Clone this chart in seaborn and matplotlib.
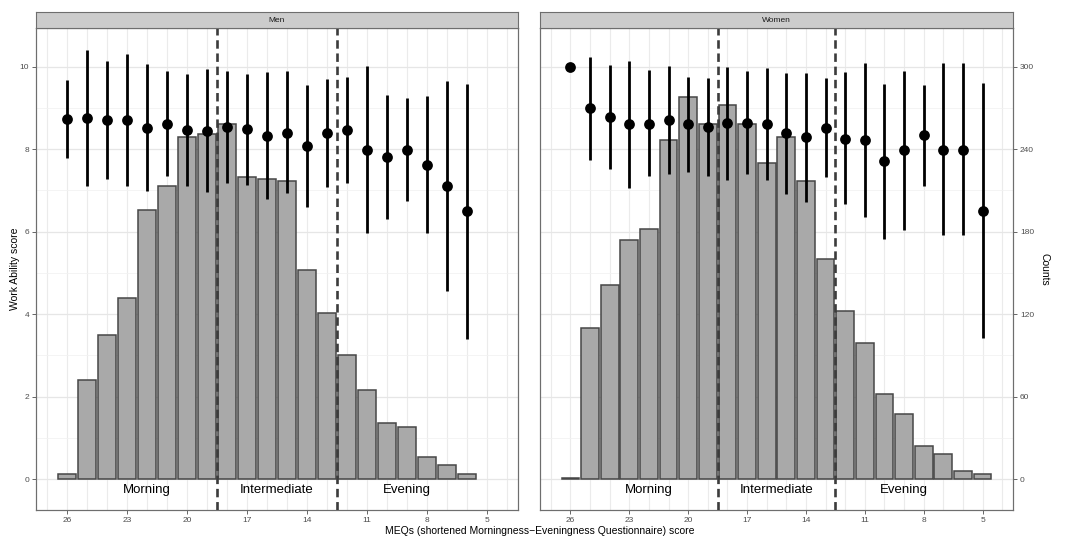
import matplotlib
matplotlib.use("Agg")
import matplotlib.pyplot as plt
import seaborn as sns
import pandas as pd

# data
meq_men = [26, 25, 24, 23, 22, 21, 20, 19, 18, 17, 16, 15, 14, 13, 12, 11, 10, 9, 8, 7, 6]
men_counts = [4, 72, 105, 132, 196, 213, 249, 251, 258, 220, 218, 217, 152, 121, 90, 65, 41, 38, 16, 10, 4]
men_wa = [8.74, 8.75, 8.71, 8.71, 8.52, 8.62, 8.47, 8.45, 8.54, 8.48, 8.33, 8.40, 8.09, 8.39, 8.47,
          7.99, 7.81, 7.99, 7.62, 7.10, 6.51]
men_lo = [7.79, 7.10, 7.29, 7.10, 6.99, 7.35, 7.12, 6.96, 7.19, 7.14, 6.79, 6.94, 6.61, 7.08, 7.17,
          5.97, 6.30, 6.74, 5.97, 4.55, 3.40]
men_hi = [9.69, 10.40, 10.13, 10.32, 10.06, 9.90, 9.83, 9.95, 9.89, 9.83, 9.87, 9.89, 9.57, 9.70, 9.76,
          10.02, 9.32, 9.25, 9.28, 9.65, 9.59]

meq_women = [26, 25, 24, 23, 22, 21, 20, 19, 18, 17, 16, 15, 14, 13, 12, 11, 10, 9, 8, 7, 6, 5]
women_counts = [1, 110, 141, 174, 182, 247, 278, 258, 272, 258, 230, 249, 217, 160, 122, 99, 62, 47,
                24, 18, 6, 4]
women_wa = [10.0, 8.99, 8.78, 8.60, 8.62, 8.71, 8.60, 8.54, 8.63, 8.64, 8.61, 8.39, 8.29, 8.52, 8.26,
            8.22, 7.71, 7.98, 8.34, 7.99, 7.99, 6.51]
women_lo = [10.0, 7.73, 7.52, 7.07, 7.35, 7.41, 7.45, 7.36, 7.26, 7.40, 7.25, 6.92, 6.73, 7.32, 6.66,
            6.35, 5.82, 6.05, 7.12, 5.93, 5.91, 3.41]
women_hi = [10.0, 10.24, 10.05, 10.14, 9.91, 10.02, 9.74, 9.73, 10.0, 9.89, 9.97, 9.85, 9.85, 9.72, 9.87,
            10.10, 9.59, 9.89, 9.56, 10.08, 10.08, 9.60]

cutoffs = [18.5, 12.5]
chrono_labels = ["Morning", "Intermediate", "Evening"]
chrono_pos = [22, 15.5, 9]
x_ticks = [26, 23, 20, 17, 14, 11, 8, 5]
wa_ticks = [0, 2, 4, 6, 8, 10]
count_ticks = [0, 60, 120, 180, 240, 300]

panels = [
    ("Men", meq_men, men_counts, men_wa, men_lo, men_hi),
    ("Women", meq_women, women_counts, women_wa, women_lo, women_hi),
]

sns.set_theme(style="white")
plt.rcParams["font.family"] = ["Liberation Sans", "DejaVu Sans"]

fig = plt.figure(figsize=(10.8, 5.44), dpi=100)

# panel positions in figure fractions
boxes = [(36 / 1080, 0.0625, 482 / 1080, 0.886), (540 / 1080, 0.0625, 473 / 1080, 0.886)]
strip_h = 16 / 544
wa_lim = (-0.75, 10.94)
scale = 30  # counts per work ability unit

for i, (name, meq, counts, wa, lo, hi) in enumerate(panels):
    box = boxes[i]
    ax = fig.add_axes(box)
    df = pd.DataFrame({"meq": meq, "count": counts, "wa": wa, "lo": lo, "hi": hi})

    # histogram bars on the counts scale
    sns.barplot(data=df, x="meq", y="count", native_scale=True, color="#A9A9A9",
                saturation=1, edgecolor="#464646", linewidth=1.1, width=0.9, ax=ax)
    ax.set_ylim(wa_lim[0] * scale, wa_lim[1] * scale)
    ax.set_xlim(27.55, 3.45)

    # grid
    ax.set_axisbelow(True)
    for v in range(4, 28):
        ax.axvline(v, color="#EBEBEB", lw=0.8, zorder=0)
    for c in [30, 90, 150, 210, 270]:
        ax.axhline(c, color="#F2F2F2", lw=0.6, zorder=0)
    for c in count_ticks:
        ax.axhline(c, color="#E6E6E6", lw=0.9, zorder=0)

    # points + error bars on work ability scale
    tw = ax.twinx()
    tw.set_ylim(*wa_lim)
    tw.vlines(df["meq"], df["lo"], df["hi"], color="black", lw=2.0, zorder=3)
    sns.scatterplot(data=df, x="meq", y="wa", color="black", s=60, linewidth=0, ax=tw, zorder=4)
    for c in cutoffs:
        tw.axvline(c, color="#3C3C3C", lw=1.9, ls=(0, (3.2, 1.8)), zorder=5)
    for lab, pos in zip(chrono_labels, chrono_pos):
        tw.text(pos, -0.27, lab, ha="center", va="center", fontsize=9.5, color="black")

    # axes: work ability on the left, counts on the right
    tw.yaxis.tick_left()
    ax.yaxis.tick_right()
    tw.set_yticks(wa_ticks)
    ax.set_yticks(count_ticks)
    ax.set_xticks(x_ticks)
    ax.set_xlabel("")
    ax.set_ylabel("")
    tw.set_xlabel("")
    tw.set_ylabel("")
    ax.tick_params(axis="x", labelsize=6, colors="#4D4D4D", length=3, width=0.6, pad=2, bottom=True)
    ax.tick_params(axis="y", labelsize=6, colors="#4D4D4D", length=3, width=0.6, pad=2, right=True)
    tw.tick_params(axis="y", labelsize=6, colors="#4D4D4D", length=3, width=0.6, pad=2, left=True)
    if i == 0:
        ax.tick_params(axis="y", right=False, labelright=False)
    else:
        tw.tick_params(axis="y", left=False, labelleft=False)

    for a in (ax, tw):
        for sp in a.spines.values():
            sp.set_color("#6E6E6E")
            sp.set_linewidth(0.8)

    # facet strip
    sax = fig.add_axes([box[0], box[1] + box[3], box[2], strip_h])
    sax.set_facecolor("#CCCCCC")
    sax.set_xticks([])
    sax.set_yticks([])
    for sp in sax.spines.values():
        sp.set_color("#6E6E6E")
        sp.set_linewidth(0.8)
    sax.text(0.5, 0.5, name, ha="center", va="center", fontsize=6, color="#1A1A1A",
             transform=sax.transAxes)

fig.text(15 / 1080, 1 - 269 / 544, "Work Ability score", rotation=90, ha="center", va="center",
         fontsize=7.5, color="black")
fig.text(1045 / 1080, 1 - 269 / 544, "Counts", rotation=-90, ha="center", va="center",
         fontsize=7.5, color="black")
fig.text(0.5, 1 - 531 / 544, "MEQs (shortened Morningness\u2212Eveningness Questionnaire) score",
         ha="center", va="center", fontsize=7.5, color="black")

plt.savefig("out.png", dpi=100)
